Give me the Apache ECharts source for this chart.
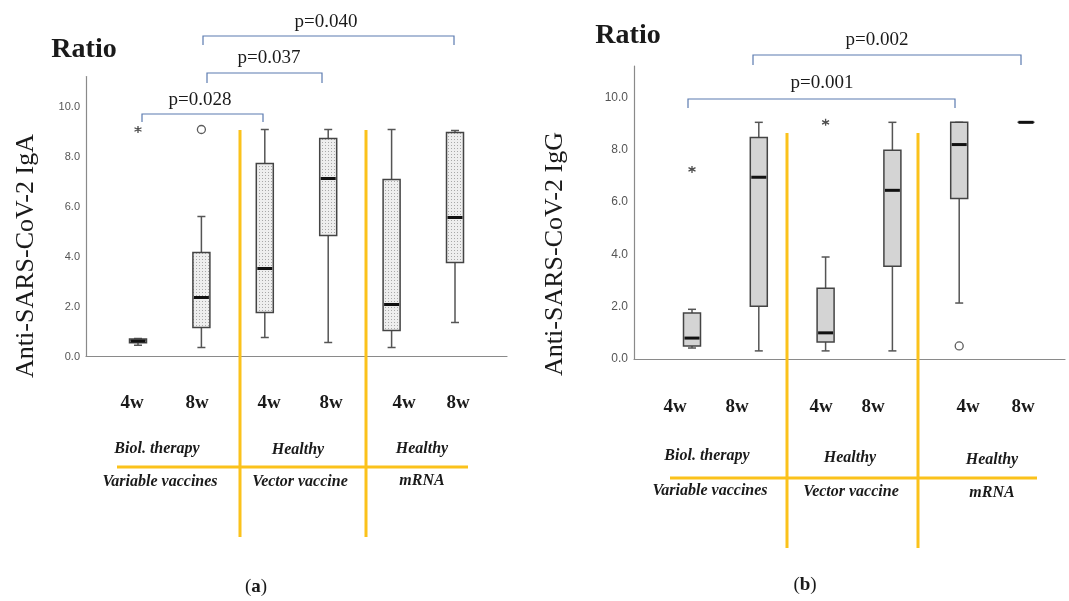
<!DOCTYPE html>
<html>
<head>
<meta charset="utf-8">
<script src="https://cdn.jsdelivr.net/npm/echarts@6/dist/echarts.min.js"></script>
<style>
html, body { margin: 0; padding: 0; background: #fff; }
#chart { width: 1069px; height: 601px; }
</style>
</head>
<body>
<div id="chart"></div>
<script>
// categories (weeks after vaccination)
const categories = ['4w', '8w', '4w', '8w', '4w', '8w'];
const groupTop = ['Biol. therapy', 'Healthy', 'Healthy'];
const groupBottom = ['Variable vaccines', 'Vector vaccine', 'mRNA'];
const yTicks = [0, 2, 4, 6, 8, 10];

// box data: [min, Q1, median, Q3, max]
const igaBoxes = [
  [0.45, 0.55, 0.62, 0.70, 0.72],
  [0.36, 1.16, 2.36, 4.16, 5.60],
  [0.76, 1.76, 3.52, 7.72, 9.08],
  [0.56, 4.84, 7.12, 8.72, 9.08],
  [0.36, 1.04, 2.08, 7.08, 9.08],
  [1.36, 3.76, 5.56, 8.96, 9.04]
];
const igaStars = [[0, 9.08]];
const igaCircles = [[1, 9.08]];

const iggBoxes = [
  [0.42, 0.50, 0.80, 1.76, 1.90],
  [0.31, 2.02, 6.95, 8.47, 9.05],
  [0.31, 0.65, 1.00, 2.71, 3.90],
  [0.31, 3.55, 6.45, 7.98, 9.05],
  [2.14, 6.14, 8.20, 9.05, 9.05],
  [9.05, 9.05, 9.05, 9.05, 9.05]
];
const iggStars = [[0, 7.25], [2, 9.05]];
const iggCircles = [[4, 0.5]];

// p-values
const igaP = ['p=0.028', 'p=0.037', 'p=0.040'];
const iggP = ['p=0.001', 'p=0.002'];

const serif = '"Liberation Serif", "DejaVu Serif", serif';
const sans = '"Liberation Sans", Arial, sans-serif';
const yellow = '#fbc21b';
const blue = '#5b7bb0';
const catFont = 'bold 19px ' + serif;
const grpFont = 'italic bold 16px ' + serif;

// dotted fill for the IgA boxes
const pc = document.createElement('canvas');
pc.width = 3; pc.height = 3;
const pctx = pc.getContext('2d');
pctx.fillStyle = '#eeeeee';
pctx.fillRect(0, 0, 3, 3);
pctx.fillStyle = '#a8a8a8';
pctx.fillRect(1, 1, 1, 1);
const dotted = { image: pc, repeat: 'repeat' };

function boxRenderer(fill) {
  return function (params, api) {
    const x = api.value(0);
    const p = [1, 2, 3, 4, 5].map(i => api.coord([x, api.value(i)]));
    const cx = p[0][0];
    const hw = 8.5, cap = 4;
    const yMin = p[0][1], yQ1 = p[1][1], yMed = p[2][1], yQ3 = p[3][1], yMax = p[4][1];
    const line = { stroke: '#555', lineWidth: 1.5 };
    const children = [
      { type: 'line', shape: { x1: cx, y1: yQ3, x2: cx, y2: yMax }, style: line },
      { type: 'line', shape: { x1: cx, y1: yQ1, x2: cx, y2: yMin }, style: line },
      { type: 'line', shape: { x1: cx - cap, y1: yMax, x2: cx + cap, y2: yMax }, style: line },
      { type: 'line', shape: { x1: cx - cap, y1: yMin, x2: cx + cap, y2: yMin }, style: line },
      { type: 'rect', shape: { x: cx - hw, y: yQ3, width: hw * 2, height: yQ1 - yQ3 },
        style: { fill: fill, stroke: '#444', lineWidth: 1.5 } },
      { type: 'line', shape: { x1: cx - hw + 1, y1: yMed, x2: cx + hw - 1, y2: yMed },
        style: { stroke: '#111', lineWidth: 3 } }
    ];
    return { type: 'group', children: children };
  };
}

const asterisk = 'path://M0,-10L0,10M-8.66,-5L8.66,5M-8.66,5L8.66,-5';

function axisPair(gi) {
  return {
    x: { type: 'value', gridIndex: gi, min: 0, max: 1,
      axisLine: { show: true, lineStyle: { color: '#8a8a8a', width: 1.2 } },
      axisTick: { show: false }, axisLabel: { show: false }, splitLine: { show: false } },
    y: { type: 'value', gridIndex: gi, min: 0, max: 11.2, interval: 2,
      axisLine: { show: true, lineStyle: { color: '#8a8a8a', width: 1.2 } },
      axisTick: { show: false }, splitLine: { show: false },
      axisLabel: { showMaxLabel: false, margin: 6, color: '#555', fontFamily: sans,
        fontSize: gi === 0 ? 11 : 12,
        formatter: v => (yTicks.indexOf(v) >= 0 ? v.toFixed(1) : '') } }
  };
}
function boxAxes(gi) {
  return {
    x: { type: 'category', gridIndex: gi, data: categories, show: false },
    y: { type: 'value', gridIndex: gi, min: 0, max: 11.2, show: false }
  };
}
const a0 = axisPair(0), b1 = boxAxes(1), a2 = axisPair(2), b3 = boxAxes(3);

function txt(x, y, text, font, extra) {
  return Object.assign({
    type: 'text', x: x, y: y, z: 10,
    style: { text: text, fill: '#1a1a1a', font: font, align: 'center', verticalAlign: 'middle' }
  }, extra || {});
}
function bracket(x1, x2, y, drop) {
  return { type: 'polyline', z: 10,
    shape: { points: [[x1, y + drop], [x1, y], [x2, y], [x2, y + drop]] },
    style: { stroke: blue, lineWidth: 1.2, fill: null } };
}
function yline(x1, y1, x2, y2) {
  return { type: 'line', z: 5, shape: { x1: x1, y1: y1, x2: x2, y2: y2 },
    style: { stroke: yellow, lineWidth: 3 } };
}
function panelLetter(x, y, letter) {
  const t = txt(x, y, '({b|' + letter + '})', '19px ' + serif);
  t.style.rich = { b: { font: 'bold 19px ' + serif } };
  return t;
}

const pFont = '19px ' + serif;
const ratioFont = 'bold 28px ' + serif;
const yNameFont = '26px ' + serif;

const graphics = [
  // panel a
  txt(84, 50, 'Ratio', ratioFont),
  txt(26, 256, 'Anti-SARS-CoV-2 IgA', yNameFont, { rotation: Math.PI / 2 }),
  bracket(142, 263, 114, 8), txt(200, 100, igaP[0], pFont),
  bracket(207, 322, 73, 10), txt(269, 58, igaP[1], pFont),
  bracket(203, 454, 36, 9), txt(326, 22, igaP[2], pFont),
  yline(240, 130, 240, 537), yline(366, 130, 366, 537), yline(117, 467, 468, 467),
  txt(132, 403, categories[0], catFont),
  txt(197, 403, categories[1], catFont),
  txt(269, 403, categories[2], catFont),
  txt(331, 403, categories[3], catFont),
  txt(404, 403, categories[4], catFont),
  txt(458, 403, categories[5], catFont),
  txt(157, 449, groupTop[0], grpFont),
  txt(298, 450, groupTop[1], grpFont),
  txt(422, 449, groupTop[2], grpFont),
  txt(160, 482, groupBottom[0], grpFont),
  txt(300, 482, groupBottom[1], grpFont),
  txt(422, 481, groupBottom[2], grpFont),
  panelLetter(256, 587, 'a'),

  // panel b
  txt(628, 36, 'Ratio', ratioFont),
  txt(555, 254, 'Anti-SARS-CoV-2 IgG', yNameFont, { rotation: Math.PI / 2 }),
  bracket(688, 955, 99, 9), txt(822, 83, iggP[0], pFont),
  bracket(753, 1021, 55, 10), txt(877, 40, iggP[1], pFont),
  yline(787, 133, 787, 548), yline(918, 133, 918, 548), yline(670, 478, 1037, 478),
  txt(675, 407, categories[0], catFont),
  txt(737, 407, categories[1], catFont),
  txt(821, 407, categories[2], catFont),
  txt(873, 407, categories[3], catFont),
  txt(968, 407, categories[4], catFont),
  txt(1023, 407, categories[5], catFont),
  txt(707, 456, groupTop[0], grpFont),
  txt(850, 458, groupTop[1], grpFont),
  txt(992, 460, groupTop[2], grpFont),
  txt(710, 491, groupBottom[0], grpFont),
  txt(851, 492, groupBottom[1], grpFont),
  txt(992, 493, groupBottom[2], grpFont),
  panelLetter(805, 585, 'b')
];

function boxSeries(boxes, axisIdx, fill) {
  return {
    type: 'custom', xAxisIndex: axisIdx, yAxisIndex: axisIdx,
    renderItem: boxRenderer(fill),
    encode: { x: 0, y: [1, 2, 3, 4, 5] },
    data: boxes.map((b, i) => [i].concat(b)), z: 3
  };
}
function starSeries(pts, axisIdx) {
  return { type: 'scatter', xAxisIndex: axisIdx, yAxisIndex: axisIdx, data: pts,
    symbol: asterisk, symbolSize: 7, z: 4,
    itemStyle: { color: '#222', borderColor: '#222', borderWidth: 1.3 } };
}
function circleSeries(pts, axisIdx) {
  return { type: 'scatter', xAxisIndex: axisIdx, yAxisIndex: axisIdx, data: pts,
    symbol: 'circle', symbolSize: 8, z: 4,
    itemStyle: { color: '#fff', borderColor: '#333', borderWidth: 1.3 } };
}

const chart = echarts.init(document.getElementById('chart'));
chart.setOption({
  animation: false,
  backgroundColor: '#fff',
  grid: [
    { left: 86, right: 562, top: 76.5, bottom: 244.5 },
    { left: 106.3, right: 582.3, top: 76.5, bottom: 244.5 },
    { left: 634, right: 4, top: 66.1, bottom: 242 },
    { left: 658.6, right: 9.6, top: 66.1, bottom: 242 }
  ],
  xAxis: [a0.x, b1.x, a2.x, b3.x],
  yAxis: [a0.y, b1.y, a2.y, b3.y],
  series: [
    boxSeries(igaBoxes, 1, dotted),
    starSeries(igaStars, 1),
    circleSeries(igaCircles, 1),
    boxSeries(iggBoxes, 3, '#d4d4d4'),
    starSeries(iggStars, 3),
    circleSeries(iggCircles, 3)
  ],
  graphic: graphics
});
</script>
</body>
</html>
